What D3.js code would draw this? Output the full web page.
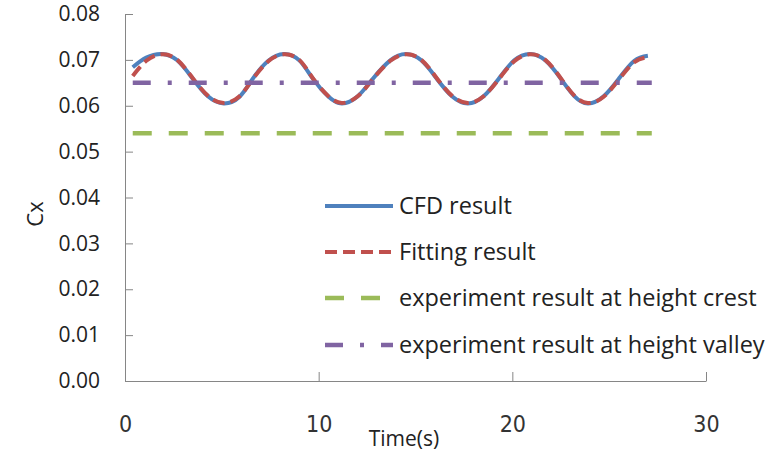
<!DOCTYPE html>
<html>
<head>
<meta charset="utf-8">
<script src="https://cdn.jsdelivr.net/npm/d3@7"></script>
<style>
    body { margin: 0; background: #fff; }
    svg { display: block; }
</style>
</head>
<body>
<div id="chart"></div>
<script>
// time (s) and Cx
const cfdTime = [0.4, 1.1, 1.9, 2.7, 3.5, 4.3, 5.1, 5.9, 6.6, 7.4, 8.2, 9.0, 9.7, 10.5, 11.2, 12.0, 12.8,
    13.7, 14.5, 15.3, 16.1, 16.9, 17.7, 18.5, 19.3, 20.1, 20.9, 21.7, 22.5, 23.2, 23.9, 24.7, 25.5, 26.3, 27.0];
const cfdCx = [0.0684, 0.0705, 0.0713, 0.0699, 0.0659, 0.0620, 0.0605, 0.0619, 0.0659, 0.0698, 0.0713, 0.0699, 0.0659,
    0.0620, 0.0605, 0.0620, 0.0659, 0.0699, 0.0713, 0.0699, 0.0659, 0.0620, 0.0605, 0.0620, 0.0659, 0.0699, 0.0713,
    0.0699, 0.0659, 0.0621, 0.0605, 0.0620, 0.0659, 0.0698, 0.0709];
const fitCx = [0.0665, 0.0698, 0.0712, 0.0700, 0.0660, 0.0621, 0.0606, 0.0620, 0.0658, 0.0697, 0.0712, 0.0700, 0.0660,
    0.0621, 0.0606, 0.0620, 0.0658, 0.0698, 0.0712, 0.0700, 0.0660, 0.0621, 0.0606, 0.0620, 0.0658, 0.0697, 0.0712,
    0.0700, 0.0660, 0.0622, 0.0606, 0.0619, 0.0657, 0.0695, 0.0706];
const crestTime = [0.4, 27.2];
const crestCx = [0.054, 0.054];
const valleyTime = [0.4, 27.2];
const valleyCx = [0.065, 0.065];

const xTicks = [0, 10, 20, 30];
const yTicks = [0, 0.01, 0.02, 0.03, 0.04, 0.05, 0.06, 0.07, 0.08];
const seriesNames = ['CFD result', 'Fitting result', 'experiment result at height crest', 'experiment result at height valley'];

const width = 770, height = 459;
const svg = d3.select('#chart').append('svg')
    .attr('width', width)
    .attr('height', height);

const x = d3.scaleLinear().domain([0, 30]).range([125, 706]);
const y = d3.scaleLinear().domain([0, 0.08]).range([381, 14]);

const axisColor = '#868686';
const textFont = '"Open Sans", Lato, sans-serif';

const yAxis = svg.append('g')
    .attr('transform', `translate(${x(0)},0)`)
    .call(d3.axisLeft(y).tickValues(yTicks).tickSize(-8).tickPadding(25)
        .tickSizeOuter(0).tickFormat(d3.format('.2f')));
yAxis.select('.domain').attr('stroke', axisColor);
yAxis.selectAll('.tick line').attr('stroke', axisColor);
yAxis.selectAll('text')
    .attr('font-family', textFont)
    .attr('font-size', 21)
    .attr('fill', '#222');

const xAxis = svg.append('g')
    .attr('transform', `translate(0,${y(0)})`)
    .call(d3.axisBottom(x).tickValues(xTicks).tickSize(-9).tickPadding(35).tickSizeOuter(0));
xAxis.select('.domain').attr('stroke', axisColor);
xAxis.selectAll('.tick line').attr('stroke', axisColor);
xAxis.selectAll('text')
    .attr('font-family', '"Liberation Sans Narrow", "DejaVu Sans Condensed", sans-serif')
    .attr('font-size', 23)
    .attr('fill', '#333');

svg.append('text')
    .attr('x', 404)
    .attr('y', 446)
    .attr('text-anchor', 'middle')
    .attr('font-family', textFont)
    .attr('font-size', 21)
    .attr('fill', '#222')
    .text('Time(s)');

svg.append('text')
    .attr('transform', 'translate(43,214) rotate(-90)')
    .attr('text-anchor', 'middle')
    .attr('font-family', textFont)
    .attr('font-size', 22)
    .attr('fill', '#222')
    .text('Cx');

const styles = [
    { color: '#4F81BD', width: 4, dash: null },
    { color: '#C0504D', width: 4, dash: '12,6' },
    { color: '#9BBB59', width: 4.5, dash: '19,17' },
    { color: '#8064A2', width: 4.5, dash: '18,17,4,17' }
];

const series = [
    d3.zip(cfdTime, cfdCx),
    d3.zip(cfdTime, fitCx),
    d3.zip(crestTime, crestCx),
    d3.zip(valleyTime, valleyCx)
];

const line = d3.line()
    .x(d => x(d[0]))
    .y(d => y(d[1]))
    .curve(d3.curveNatural);

series.forEach((pts, i) => {
    svg.append('path')
        .datum(pts)
        .attr('d', line)
        .attr('fill', 'none')
        .attr('stroke', styles[i].color)
        .attr('stroke-width', styles[i].width)
        .attr('stroke-dasharray', styles[i].dash);
});

// legend
const legendY = [206, 252, 298, 345];
const legend = svg.append('g');
seriesNames.forEach((name, i) => {
    legend.append('line')
        .attr('x1', 325).attr('x2', 393)
        .attr('y1', legendY[i]).attr('y2', legendY[i])
        .attr('stroke', styles[i].color)
        .attr('stroke-width', styles[i].width)
        .attr('stroke-dasharray', styles[i].dash);
    legend.append('text')
        .attr('x', 399)
        .attr('y', legendY[i])
        .attr('dy', '0.35em')
        .attr('font-family', textFont)
        .attr('font-size', 23.5)
        .attr('fill', '#222')
        .text(name);
});
</script>
</body>
</html>
